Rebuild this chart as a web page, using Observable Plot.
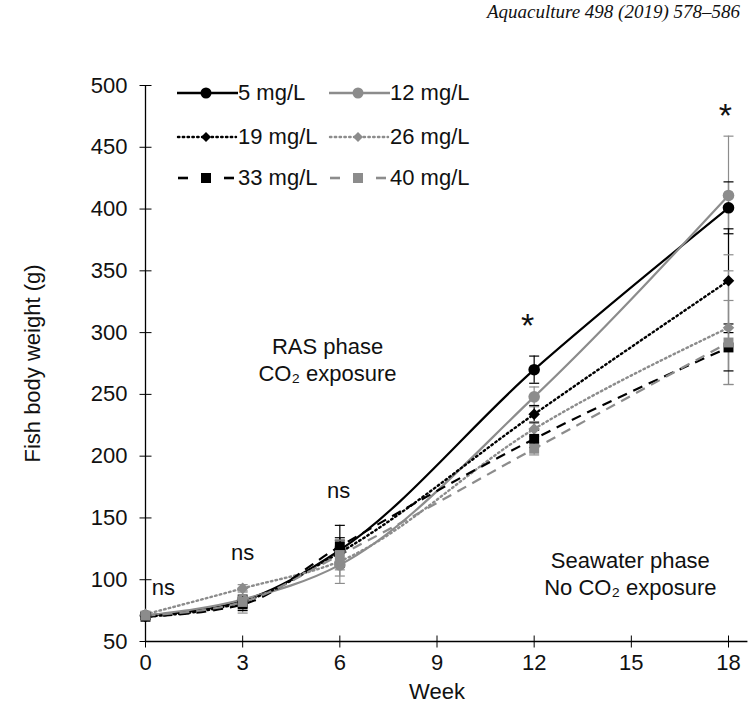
<!DOCTYPE html>
<html><head><meta charset="utf-8">
<script src="https://cdn.jsdelivr.net/npm/d3@7"></script>
<script src="https://cdn.jsdelivr.net/npm/@observablehq/plot@0.6"></script>
<style>
body{margin:0;background:#fff;font-family:"Liberation Sans",Arial,sans-serif;}
#wrap{position:relative;width:752px;height:705px;}
#hdr{position:absolute;right:12px;top:1px;font:italic 19px "Liberation Serif","DejaVu Serif",serif;color:#111;}
#legend{position:absolute;left:176px;top:81px;font-size:22px;color:#111;}
.row{position:absolute;white-space:nowrap;display:flex;align-items:center;height:24px;}
</style></head>
<body><div id="wrap"><div id="hdr">Aquaculture 498 (2019) 578–586</div><div id="chart"></div><div id="legend"></div></div>
<script>
const weeks = [0, 3, 6, 12, 18];
const series = ["5 mg/L", "12 mg/L", "19 mg/L", "26 mg/L", "33 mg/L", "40 mg/L"];
const means = {
  "5 mg/L":  [71, 83, 124, 270, 401],
  "12 mg/L": [71, 84, 112, 248, 411],
  "19 mg/L": [70, 82, 122, 234, 342],
  "26 mg/L": [72, 93, 115, 222, 304],
  "33 mg/L": [70, 80, 127, 214, 288],
  "40 mg/L": [71, 82, 120, 206, 292]
};
const errs = {
  "5 mg/L":  [2, 4, 10, 11, 21],
  "12 mg/L": [2, 4, 15, 8, 48],
  "19 mg/L": [2, 4, 10, 7, 42],
  "26 mg/L": [2, 3, 12, 6, 46],
  "33 mg/L": [2, 5, 17, 7, 19],
  "40 mg/L": [2, 9, 12, 5, 34]
};
const colors = ["#000", "#8c8c8c", "#000", "#8c8c8c", "#000", "#8c8c8c"];
const symbols = ["circle", "circle", "diamond2", "diamond2", "square", "square"];
const dashes = [null, null, "1.6 3.2", "1.6 3.2", "10 7", "10 7"];
const xTicks = [0, 3, 6, 9, 12, 15, 18];
const yTicks = [50, 100, 150, 200, 250, 300, 350, 400, 450, 500];
const notes = [
  {x: 0.55, y: 93, t: "ns", s: 22},
  {x: 3.0, y: 122, t: "ns", s: 22},
  {x: 5.96, y: 172, t: "ns", s: 22},
  {x: 11.8, y: 305, t: "*", s: 34},
  {x: 17.9, y: 475, t: "*", s: 34},
  {x: 5.62, y: 288, t: "RAS phase", s: 22},
  {x: 5.62, y: 266.5, t: "CO\u2082 exposure", s: 22},
  {x: 14.97, y: 115.5, t: "Seawater phase", s: 22},
  {x: 14.97, y: 93.7, t: "No CO\u2082 exposure", s: 22}
];

const rows = [];
series.forEach((s, i) => weeks.forEach((w, j) => rows.push({
  s, i, week: w, v: means[s][j], lo: means[s][j] - errs[s][j], hi: means[s][j] + errs[s][j]
})));

const hSym = {draw(ctx){ctx.moveTo(-5, 0); ctx.lineTo(5, 0);}};
const hTick = {draw(ctx){ctx.moveTo(-6, 0); ctx.lineTo(6, 0);}};
const vTick = {draw(ctx){ctx.moveTo(0, -6); ctx.lineTo(0, 6);}};

const marks = [
  Plot.ruleX([0], {y1: 50, y2: 500, stroke: "#000", strokeWidth: 1.3}),
  Plot.ruleY([50], {x1: 0, x2: 18.6, stroke: "#000", strokeWidth: 1.3}),
  Plot.dot(yTicks, {x: 0, y: d => d, symbol: hTick, stroke: "#000", strokeWidth: 1, r: 3}),
  Plot.dot(xTicks, {x: d => d, y: 50, symbol: vTick, stroke: "#000", strokeWidth: 1, r: 3}),
  Plot.ruleX(rows, {x: "week", y1: "lo", y2: "hi", stroke: d => colors[d.i], strokeWidth: 1.2}),
  Plot.dot(rows, {x: "week", y: "lo", symbol: hSym, stroke: d => colors[d.i], strokeWidth: 1.2, r: 3}),
  Plot.dot(rows, {x: "week", y: "hi", symbol: hSym, stroke: d => colors[d.i], strokeWidth: 1.2, r: 3}),
];
series.forEach((s, i) => {
  const data = rows.filter(d => d.s === s);
  const dotted = dashes[i] && dashes[i].startsWith("1.6");
  marks.push(Plot.line(data, {x: "week", y: "v", stroke: colors[i], strokeWidth: dotted ? 2.4 : 2.2,
    strokeDasharray: dashes[i], strokeLinecap: dotted ? "round" : "butt", curve: "monotone-x"}));
});
series.forEach((s, i) => {
  const data = rows.filter(d => d.s === s);
  marks.push(Plot.dot(data, {x: "week", y: "v", symbol: symbols[i], fill: colors[i], stroke: "none",
    r: symbols[i] === "circle" ? 5.8 : (symbols[i] === "square" ? 5.6 : 5.2)}));
});
marks.push(Plot.text(notes, {x: "x", y: "y", text: "t", fontSize: d => d.s, fill: "#111", fontFamily: "Liberation Sans, Arial, sans-serif"}));

const chart = Plot.plot({
  width: 752, height: 705,
  marginLeft: 145, marginRight: 24, marginTop: 85, marginBottom: 64,
  style: {fontFamily: "Liberation Sans, Arial, sans-serif", fontSize: "22px", color: "#111", background: "#fff"},
  x: {domain: [0, 18]},
  y: {domain: [50, 500]},
  marks: [
    Plot.axisX({ticks: xTicks, tickSize: 0, tickPadding: 13, fontSize: 22, label: "Week", labelAnchor: "center", labelOffset: 57, labelArrow: "none"}),
    Plot.axisY({ticks: yTicks, tickSize: 0, tickPadding: 18, fontSize: 22, label: "Fish body weight (g)", labelAnchor: "center", labelOffset: 121, labelArrow: "none"}),
    ...marks
  ]
});
document.getElementById("chart").appendChild(chart);

// legend
const leg = document.getElementById("legend");
const pos = [[0,0],[152,0],[0,44],[152,44],[0,85],[152,85]];
series.forEach((s, i) => {
  const c = colors[i];
  let sym;
  if (symbols[i] === "circle") sym = `<circle cx="30" cy="12" r="5.5" fill="${c}"/>`;
  else if (symbols[i] === "diamond2") sym = `<path d="M30 7 L35 12 L30 17 L25 12Z" fill="${c}"/>`;
  else sym = `<rect x="25" y="7" width="10" height="10" fill="${c}"/>`;
  let line;
  if (!dashes[i]) line = `<line x1="1" y1="12" x2="62" y2="12" stroke="${c}" stroke-width="2.4"/>`;
  else if (dashes[i].startsWith("1.6")) line = `<line x1="2" y1="12" x2="60" y2="12" stroke="${c}" stroke-width="2.4" stroke-dasharray="1.4 3.4" stroke-linecap="round"/>`;
  else line = `<line x1="2" y1="12" x2="12" y2="12" stroke="${c}" stroke-width="2.6"/><line x1="48" y1="12" x2="58" y2="12" stroke="${c}" stroke-width="2.6"/>`;
  const d = document.createElement("div");
  d.className = "row";
  d.style.left = pos[i][0] + "px"; d.style.top = pos[i][1] + "px";
  d.innerHTML = `<svg width="62" height="24">${line}${sym}</svg><span>${s}</span>`;
  leg.appendChild(d);
});
</script></body></html>
